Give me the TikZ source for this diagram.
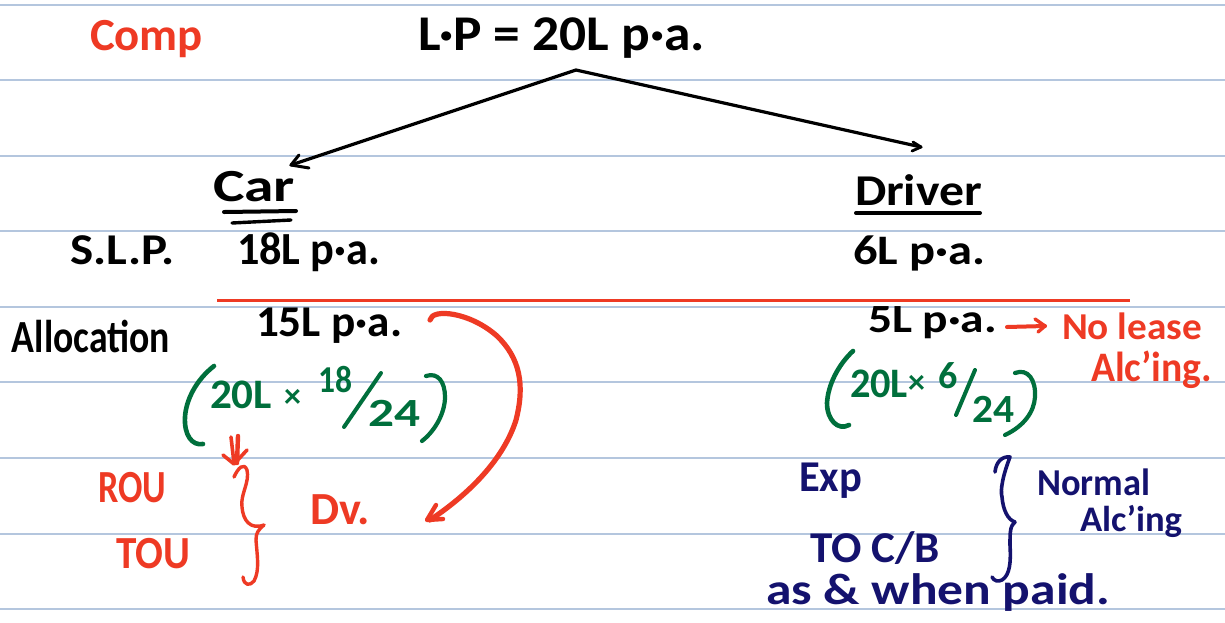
\documentclass[tikz,border=0pt]{standalone}
\usepackage{fontspec}
\usepackage{graphicx}
\setmainfont{Carlito}
\definecolor{rul}{HTML}{B4C6DE}
\definecolor{inkred}{HTML}{EE3A24}
\definecolor{inkgreen}{HTML}{006F3C}
\definecolor{inknavy}{HTML}{14126E}
\newcommand{\fitw}[2]{\resizebox{#1pt}{\height}{#2}}
\tikzset{
  hw/.style={anchor=base west,inner sep=0pt,outer sep=0pt},
  blk/.style={hw,text=black,font=\bfseries\fontsize{#1}{#1}\selectfont},
  redt/.style={hw,text=inkred,font=\bfseries\fontsize{#1}{#1}\selectfont},
  grn/.style={hw,text=inkgreen,font=\bfseries\fontsize{#1}{#1}\selectfont},
  nvy/.style={hw,text=inknavy,font=\bfseries\fontsize{#1}{#1}\selectfont},
  ruleline/.style={rul,line width=1.3pt},
  pen/.style={line width=#1,line cap=round,line join=round},
}
\begin{document}
\begin{tikzpicture}[x=1pt,y=-1pt]
\useasboundingbox (0,0) rectangle (1225,622);
\fill[white] (0,0) rectangle (1225,622);
\foreach \y in {5,80,156,231,307,382,458,534,609} \draw[ruleline] (0,\y) -- (1225,\y);

% top
\node[redt=46] (comp) at (90,50) {\fitw{113}{Comp}};
\node[blk=50] (lp) at (418,50) {\fitw{287}{L·P = 20L p·a.}};
\coordinate (apex) at (576,70);
\node[blk=46] (car) at (213,201) {\fitw{82}{Car}};
\node[blk=44] (driver) at (855,205) {\fitw{127}{Driver}};
\coordinate (carTip) at (291,165);
\coordinate (driverTip) at (921,147);
\draw[pen=3.2pt] (carTip) -- (apex) -- (driverTip);
\draw[pen=3pt] (299,155) -- (carTip) -- (309,168);
\draw[pen=2.8pt] (913,142) -- (driverTip) -- (912,151);
\draw[pen=4pt] (224,212) -- (296,211);
\draw[pen=3.4pt] (232,223) -- (291,220);
\draw[pen=4pt] (856,213) -- (980,213);

% row labels
\node[blk=44] (slp) at (70,264) {\fitw{105}{S.L.P.}};
\node[blk=46] (cslp) at (237,264) {\fitw{143}{18L p·a.}};
\node[blk=42] (dslp) at (853,264) {\fitw{132}{6L p·a.}};
\draw[inkred,line width=3pt] (217,300) -- (1130,300);
\node[blk=46] (alloc) at (12,352) {\fitw{158}{Allocation}};
\node[blk=44] (cal) at (256,336) {\fitw{146}{15L p·a.}};
\node[blk=40] (dal) at (868,332) {\fitw{129}{5L p·a.}};

% left working
\draw[inkgreen,pen=4.6pt] (214,366) .. controls (196,380) and (186,400) .. (185,417) .. controls (184,435) and (192,446) .. (203,444);
\node[grn=42] (c20) at (210,408) {\fitw{62}{20L}};
\node[grn=34] (cx) at (284,407) {×};
\node[grn=38] (c18) at (318,392) {\fitw{34}{18}};
\node[grn=40] (c24) at (368,426) {\fitw{52}{24}};
\draw[inkgreen,pen=4pt] (381,373) -- (344,427);
\draw[inkgreen,pen=4.2pt] (426,376) .. controls (438,372) and (445,382) .. (445,397) .. controls (445,412) and (436,430) .. (422,441);

\draw[inkred,pen=3.6pt] (231,437) -- (234,463);
\draw[inkred,pen=4.4pt] (238,436) -- (237,463);
\draw[inkred,pen=3.6pt] (223,455) -- (234,464) -- (247,450);

\node[redt=46] (rou) at (98,502) {\fitw{68}{ROU}};
\node[redt=46] (tou) at (116,568) {\fitw{74}{TOU}};
\node[redt=46] (dv) at (310,524) {\fitw{60}{Dv.}};
\draw[inkred,pen=3.4pt] (234,477) .. controls (238,468) and (244,462) .. (247,470) .. controls (250,482) and (240,495) .. (242,507) .. controls (243,520) and (250,530) .. (264,525);
\draw[inkred,pen=3.4pt] (264,525) .. controls (258,530) and (256,533) .. (256,540) .. controls (257,555) and (260,570) .. (254,581) .. controls (250,586) and (244,586) .. (243,577);
\draw[inkred,pen=5.2pt] (430,320) .. controls (432,308) and (470,312) .. (497,336) .. controls (520,358) and (525,385) .. (516,420) .. controls (505,455) and (475,490) .. (430,520);
\draw[inkred,pen=4.4pt] (436,505) -- (427,520) -- (443,519);

% right working
\draw[inkred,pen=4pt] (1007,327) -- (1045,326);
\draw[inkred,pen=3.4pt] (1035,319) -- (1045,326) -- (1038,332);
\node[redt=38] (lease) at (1062,339) {\fitw{140}{No lease}};
\node[redt=42] (alcing) at (1091,381) {\fitw{121}{Alc'ing.}};
\draw[inkgreen,pen=4.6pt] (853,351) .. controls (838,365) and (828,385) .. (827,403) .. controls (827,420) and (838,431) .. (849,425);
\node[grn=42] (d20) at (850,397) {\fitw{58}{20L}};
\node[grn=34] (dx) at (908,393) {×};
\node[grn=38] (d6) at (938,388) {6};
\node[grn=40] (d24) at (972,422) {\fitw{42}{24}};
\draw[inkgreen,pen=4pt] (975,370) -- (956,415);
\draw[inkgreen,pen=4.2pt] (1015,373) .. controls (1028,368) and (1036,380) .. (1035,397) .. controls (1034,412) and (1024,426) .. (1005,435);

\node[nvy=44] (exp) at (799,491) {\fitw{63}{Exp}};
\node[nvy=44] (toc) at (810,562) {\fitw{130}{TO C/B}};
\node[nvy=44] (as) at (766,604) {\fitw{344}{as \& when paid.}};
\node[nvy=38] (norm) at (1037,495) {\fitw{113}{Normal}};
\node[nvy=36] (alc) at (1080,531) {\fitw{102}{Alc'ing}};
\draw[inknavy,pen=3.6pt] (995,472) .. controls (996,462) and (1002,456) .. (1010,457) .. controls (1003,475) and (1000,490) .. (1002,497) .. controls (1003,510) and (1008,520) .. (1015,522);
\draw[inknavy,pen=3.6pt] (1015,522) .. controls (1010,526) and (1010,532) .. (1010,545) .. controls (1011,562) and (1010,575) .. (1002,580) .. controls (998,582) and (994,581) .. (992,577);
\end{tikzpicture}
\end{document}
